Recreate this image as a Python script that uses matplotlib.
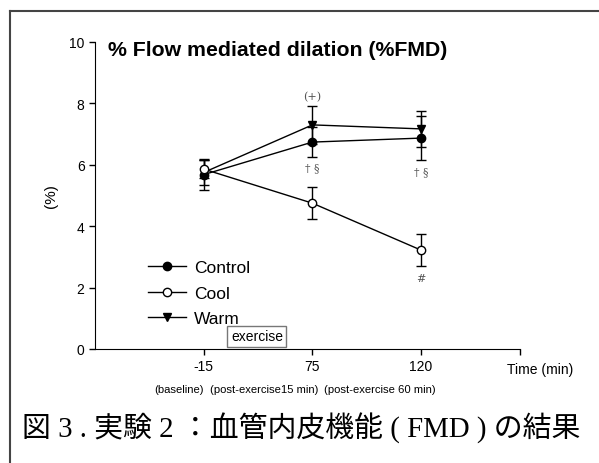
import matplotlib
matplotlib.use("Agg")
import matplotlib.pyplot as plt
from matplotlib.lines import Line2D

plt.rcParams["font.family"] = ["Liberation Sans", "DejaVu Sans"]

# data
times = ["-15", "75", "120"]
sublabels = ["(baseline)", "(post-exercise15 min)", "(post-exercise 60 min)"]
control = [5.68, 6.74, 6.87]
control_err = [0.50, 0.50, 0.72]
cool = [5.86, 4.75, 3.22]
cool_err = [0.30, 0.53, 0.52]
warm = [5.75, 7.30, 7.17]
warm_err = [0.42, 0.62, 0.58]

x = list(range(len(times)))

fig = plt.figure(figsize=(5.99, 4.64), dpi=100)
ax = fig.add_axes([95 / 599, 114 / 464, 425 / 599, 307 / 464])

style = dict(color="black", lw=1.0, capsize=3.6, elinewidth=1.0, capthick=1.0, markersize=6)
ax.errorbar(x, control, yerr=control_err, fmt="-o", mfc="black", mec="black", label="Control", **style)
ax.errorbar(x, cool, yerr=cool_err, fmt="-o", mfc="white", mec="black", label="Cool", zorder=3, **style)
ax.errorbar(x, warm, yerr=warm_err, fmt="-v", mfc="black", mec="black", label="Warm", **style)

ax.set_xlim(-1, 2.91)
ax.set_ylim(0, 10)
ax.set_yticks([0, 2, 4, 6, 8, 10])
ax.set_xticks(x + [2.91])
ax.set_xticklabels(times + [""])
ax.tick_params(labelsize=10, length=4, width=1, direction="out")
ax.spines["top"].set_visible(False)
ax.spines["right"].set_visible(False)
ax.set_ylabel("(%)", fontsize=11, labelpad=8)

# significance marks
mark = dict(fontsize=8, color="#555555", ha="center", va="center", family="DejaVu Serif")
ax.text(1, 8.24, "(+)", **mark)
ax.text(1, 5.93, "† §", **mark)
ax.text(2, 5.8, "† §", **mark)
ax.text(2, 2.31, "#", **mark)

# exercise box
ax.text(0.49, 0.42, "exercise", ha="center", va="center", fontsize=10,
        bbox=dict(boxstyle="square,pad=0.25", fc="white", ec="#777777", lw=1))

fig.text(540 / 599, 1 - 370 / 464, "Time (min)", ha="center", va="center", fontsize=10)
for px, s in zip([154, 210, 324], sublabels):
    fig.text(px / 599, 1 - 390 / 464, s, ha="left", va="center", fontsize=8.1)

handles = [
    Line2D([], [], color="black", lw=1, marker="o", mfc="black", mec="black", ms=6),
    Line2D([], [], color="black", lw=1, marker="o", mfc="white", mec="black", ms=6),
    Line2D([], [], color="black", lw=1, marker="v", mfc="black", mec="black", ms=6),
]
ax.legend(handles, ["Control", "Cool", "Warm"], loc="lower left", bbox_to_anchor=(0.095, 0.034),
          frameon=False, fontsize=12.5, handlelength=2.2, handletextpad=0.5,
          labelspacing=0.6, borderpad=0.2)

fig.text(108 / 599, 1 - 50 / 464, "% Flow mediated dilation (%FMD)", fontsize=15.3,
         fontweight="bold", ha="left", va="center")

fig.text(22 / 599, 1 - 428 / 464, "図 3 . 実験 2 ：血管内皮機能 ( FMD ) の結果", fontsize=20.8,
         ha="left", va="center", family=["Liberation Serif", "Noto Sans CJK JP"])

# frame lines (top and left)
fig.add_artist(Line2D([10 / 599, 1], [1 - 12 / 464] * 2, color="#444444", lw=1.5))
fig.add_artist(Line2D([10 / 599] * 2, [0, 1 - 12 / 464], color="#444444", lw=1.5))

fig.savefig("out.png", dpi=100)
